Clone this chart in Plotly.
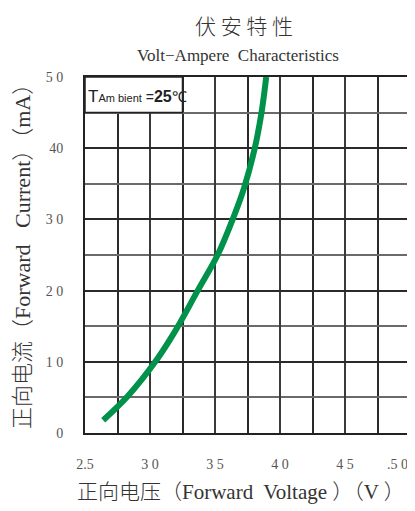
import plotly.graph_objects as go

# Data
voltage = [2.64, 2.83, 3.05, 3.19, 3.37, 3.52, 3.64, 3.725, 3.806, 3.858, 3.894]
current = [1.8, 5.2, 10.25, 14.2, 20.1, 25.0, 30.2, 34.5, 40.0, 45.0, 50.0]

x_tickvals = [2.5, 3.0, 3.5, 4.0, 4.5, 5.0]
x_ticktext = ["2.5", "3 0", "3 5", "4 0", "4 5", ".5 0"]
y_tickvals = [0, 10, 20, 30, 40, 50]
y_ticktext = ["0", "1 0", "2 0", "3 0", "40", "5 0"]

green = "#00914A"
serif = "Liberation Serif, Noto Sans CJK SC, serif"
cjk = "Noto Sans CJK SC, sans-serif"
tickfont = dict(family=serif, size=14, color="#555")

fig = go.Figure()
fig.add_trace(go.Scatter(
    x=voltage, y=current, mode="lines",
    line=dict(color=green, width=6, shape="spline", smoothing=1.0),
    hoverinfo="skip", showlegend=False, cliponaxis=True,
))

# page body has an 8px margin, so the figure is sized to the visible area
fig.update_layout(
    width=407, height=503,
    margin=dict(l=77, r=5, t=69, b=78),
    paper_bgcolor="white", plot_bgcolor="white",
    showlegend=False,
    xaxis=dict(
        range=[2.5, 5.0], tickvals=x_tickvals[:-1], ticktext=x_ticktext[:-1],
        showgrid=True, gridcolor="#3a3a3a", gridwidth=1.5,
        minor=dict(dtick=0.25, tick0=2.5, showgrid=True, gridcolor="#2a2a2a", gridwidth=1.5),
        showline=True, linecolor="#222", linewidth=2, mirror=True,
        ticks="", ticklabelstandoff=17, zeroline=False,
        tickfont=tickfont, fixedrange=True, automargin=False,
    ),
    yaxis=dict(
        range=[0, 50], tickvals=y_tickvals, ticktext=y_ticktext,
        showgrid=True, gridcolor="#2a2a2a", gridwidth=1.5,
        minor=dict(dtick=5, tick0=0, showgrid=True, gridcolor="#6a6a6a", gridwidth=1.5),
        showline=True, linecolor="#222", linewidth=2, mirror=True,
        ticks="", ticklabelstandoff=17, zeroline=False,
        tickfont=tickfont, fixedrange=True, automargin=False,
    ),
    shapes=[dict(type="rect", xref="x", yref="y", x0=2.5, x1=3.25, y0=45, y1=50,
                 fillcolor="white", line=dict(color="#222", width=1.5), layer="above")],
)

annotations = [
    # last x tick label, kept inside the page edge
    dict(text=x_ticktext[-1], xref="x", yref="paper", x=x_tickvals[-1], y=0, xanchor="right",
         yanchor="middle", xshift=0, yshift=-31, showarrow=False, font=tickfont),
    dict(text="伏 安 特 性", xref="paper", yref="paper", x=0.49, y=1.0, yshift=52,
         xanchor="center", yanchor="middle", showarrow=False,
         font=dict(family=cjk, size=21, color="#333", weight=300)),
    dict(text="Volt−Ampere  Characteristics", xref="paper", yref="paper", x=0.47, y=1.0, yshift=22,
         xanchor="center", yanchor="middle", showarrow=False,
         font=dict(family=serif, size=17, color="#333")),
    dict(text="正向电流（Forward   Current）（mA）", xref="paper", yref="paper", x=0, xshift=-63,
         y=0.5, yshift=4, xanchor="center", yanchor="middle", textangle=-90, showarrow=False,
         font=dict(family=serif, size=22, color="#333", weight=300)),
    dict(text="正向电压（Forward  Voltage ）（V ）", xref="paper", yref="paper", x=0.48, y=0,
         yshift=-59, xanchor="center", yanchor="middle", showarrow=False,
         font=dict(family=serif, size=21, color="#333", weight=300)),
    dict(text="<span style='font-size:17px'>T</span><span style='font-size:11px'>Am bient</span>"
              " =<b><span style='font-size:16px'>25</span></b><span style='font-size:15px'>℃</span>",
         xref="x", yref="y", x=2.505, y=47.3, xanchor="left", yanchor="middle", showarrow=False,
         font=dict(family="Liberation Sans Narrow, Liberation Sans, sans-serif", size=14, color="#222")),
]
for a in annotations:
    fig.add_annotation(**a)

fig.write_html("out.html")
